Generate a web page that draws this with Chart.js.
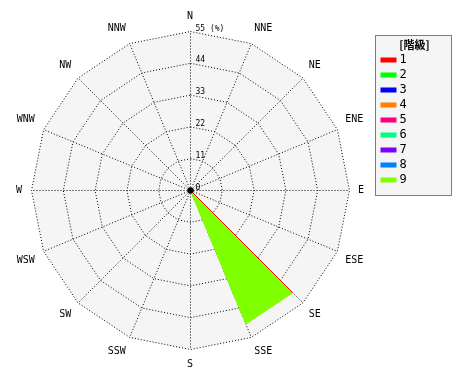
<!DOCTYPE html>
<html>
<head>
<meta charset="utf-8">
<script src="https://cdn.jsdelivr.net/npm/chart.js@4/dist/chart.umd.min.js"></script>
<style>
  html, body { margin: 0; padding: 0; background: #fff; }
  #wrap { width: 470px; height: 380px; }
</style>
</head>
<body>
<div id="wrap"><canvas id="roseChart"></canvas></div>
<script>
// directions, clockwise from north
var directions = ['N', 'NNE', 'NE', 'ENE', 'E', 'ESE', 'SE', 'SSE',
                  'S', 'SSW', 'SW', 'WSW', 'W', 'WNW', 'NW', 'NNW'];
var classNames = ['1', '2', '3', '4', '5', '6', '7', '8', '9'];

// frequency (%) of each class per direction
var class1 = [0, 0, 0, 0, 0, 0, 50, 0, 0, 0, 0, 0, 0, 0, 0, 0];
var class2 = [0, 0, 0, 0, 0, 0, 0, 0, 0, 0, 0, 0, 0, 0, 0, 0];
var class3 = [0, 0, 0, 0, 0, 0, 0, 0, 0, 0, 0, 0, 0, 0, 0, 0];
var class4 = [0, 0, 0, 0, 0, 0, 0, 0, 0, 0, 0, 0, 0, 0, 0, 0];
var class5 = [0, 0, 0, 0, 0, 0, 0, 0, 0, 0, 0, 0, 0, 0, 0, 0];
var class6 = [0, 0, 0, 0, 0, 0, 0, 0, 0, 0, 0, 0, 0, 0, 0, 0];
var class7 = [0, 0, 0, 0, 0, 0, 0, 0, 0, 0, 0, 0, 0, 0, 0, 0];
var class8 = [0, 0, 0, 0, 0, 0, 0, 0, 0, 0, 0, 0, 0, 0, 0, 0];
var class9 = [0, 0, 0, 0, 0, 0, 0, 50, 0, 0, 0, 0, 0, 0, 0, 0];

var radialTicks = [0, 11, 22, 33, 44, 55];

var classColors = ['#ff0000', '#00ff00', '#0000ff', '#ff8000', '#ff0080',
                   '#00ff80', '#8000ff', '#0080ff', '#80ff00'];

// stacked rose: each class polygon is the running total
var classValues = [class1, class2, class3, class4, class5, class6, class7, class8, class9];
var running = directions.map(function () { return 0; });
var datasets = classValues.map(function (vals, i) {
    running = running.map(function (v, j) { return v + vals[j]; });
    return {
        label: classNames[i],
        data: running.slice(),
        borderColor: classColors[i],
        backgroundColor: classColors[i],
        borderWidth: 1,
        pointRadius: 0,
        fill: true
    };
});

var monoFont = '"DejaVu Sans Mono", monospace';

var tickLabelPlugin = {
    id: 'tickLabels',
    afterDatasetsDraw: function (chart) {
        var scale = chart.scales.r;
        var ctx = chart.ctx;
        ctx.save();
        // center dot
        ctx.fillStyle = '#000';
        ctx.beginPath();
        ctx.arc(scale.xCenter, scale.yCenter, 3, 0, Math.PI * 2);
        ctx.fill();
        ctx.font = '8px ' + monoFont;
        ctx.textAlign = 'left';
        ctx.textBaseline = 'bottom';
        scale.ticks.forEach(function (t, i) {
            var r = scale.getDistanceFromCenterForValue(t.value);
            var txt = String(t.value);
            if (i === scale.ticks.length - 1) txt += ' (%)';
            ctx.fillText(txt, scale.xCenter + 5, scale.yCenter - r + 1);
        });
        ctx.restore();
    }
};

var legendBoxPlugin = {
    id: 'legendBox',
    afterDraw: function (chart) {
        var ctx = chart.ctx;
        var left = chart.chartArea.right + 0.5;
        var top = 35.5;
        var w = 76, h = 160;
        ctx.save();
        ctx.fillStyle = '#f5f5f5';
        ctx.fillRect(left, top, w, h);
        ctx.strokeStyle = '#000';
        ctx.lineWidth = 1;
        ctx.setLineDash([1, 1]);
        ctx.strokeRect(left, top, w, h);
        ctx.setLineDash([]);
        ctx.fillStyle = '#000';
        ctx.textAlign = 'center';
        ctx.textBaseline = 'middle';
        ctx.font = 'bold 11px "Noto Sans CJK JP", sans-serif';
        ctx.fillText('[階級]', left + 39, top + 9);
        ctx.textAlign = 'left';
        ctx.font = '12px ' + monoFont;
        chart.data.datasets.forEach(function (ds, i) {
            var y = top + 24 + i * 15;
            ctx.fillStyle = ds.borderColor;
            ctx.fillRect(left + 5, y - 2, 16, 5);
            ctx.fillStyle = '#000';
            ctx.fillText(ds.label, left + 24, y);
        });
        ctx.restore();
    }
};

new Chart(document.getElementById('roseChart'), {
    type: 'radar',
    data: {
        labels: directions,
        datasets: datasets
    },
    options: {
        responsive: true,
        maintainAspectRatio: false,
        animation: false,
        layout: { padding: { left: 5, right: 95, top: 10, bottom: 10 } },
        elements: { line: { tension: 0 } },
        plugins: {
            legend: { display: false },
            tooltip: { enabled: false }
        },
        scales: {
            r: {
                min: 0,
                max: 55,
                backgroundColor: '#f5f5f5',
                ticks: { stepSize: 11, display: false },
                afterBuildTicks: function (scale) {
                    scale.ticks = radialTicks.map(function (v) { return { value: v }; });
                },
                afterFit: function (scale) {
                    // half-pixel shift keeps the vertical and horizontal spokes crisp
                    scale.xCenter += 0.5;
                    scale.yCenter += 0.5;
                },
                grid: { color: '#000', lineWidth: 1 },
                border: { dash: [1, 2] },
                angleLines: { color: '#000', lineWidth: 1, borderDash: [1, 2] },
                pointLabels: {
                    color: '#000',
                    padding: 9,
                    font: { family: monoFont, size: 10 }
                }
            }
        }
    },
    plugins: [tickLabelPlugin, legendBoxPlugin]
});
</script>
</body>
</html>
